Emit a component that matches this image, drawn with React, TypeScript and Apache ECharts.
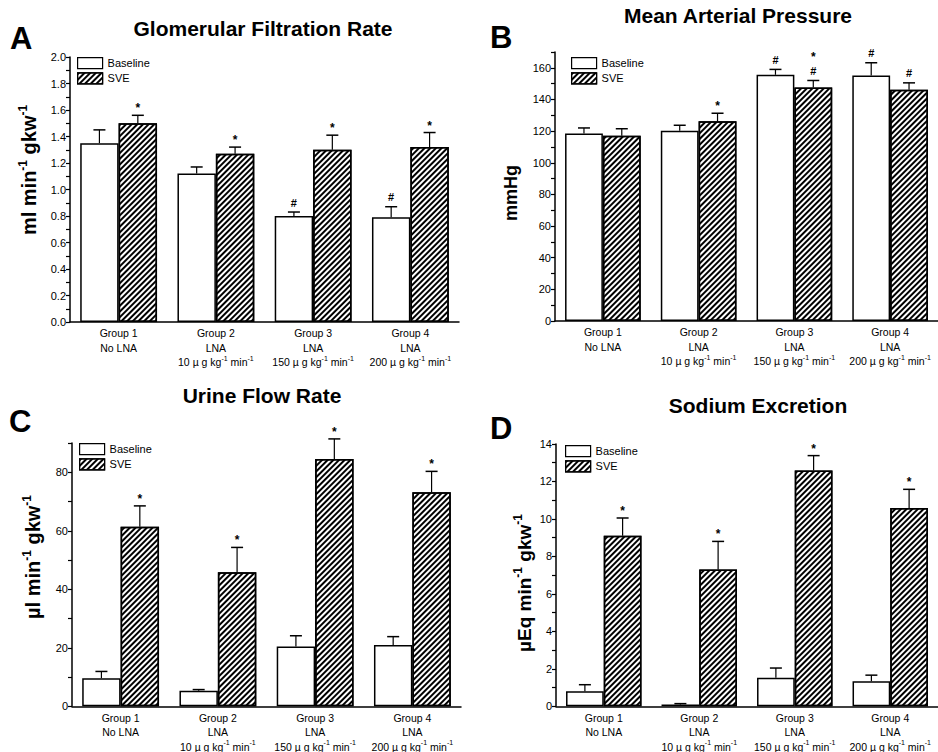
import React, { useEffect, useRef } from "react";
import * as echarts from "echarts";

// ---------- data ----------
const groups = ["Group 1", "Group 2", "Group 3", "Group 4"];
const treatments = ["No LNA", "LNA", "LNA", "LNA"];
const doses = ["", "10", "150", "200"];
const seriesNames = ["Baseline", "SVE"];

// A: Glomerular Filtration Rate
const gfrBaseline = [1.35, 1.12, 0.8, 0.79];
const gfrBaselineSem = [0.1, 0.05, 0.03, 0.08];
const gfrSve = [1.5, 1.27, 1.3, 1.32];
const gfrSveSem = [0.06, 0.05, 0.11, 0.11];
const gfrBaselineMarks = ["", "", "#", "#"];
const gfrSveMarks = ["*", "*", "*", "*"];
const gfrTicks = { max: 2.0, interval: 0.1, labelEvery: 0.2 };

// B: Mean Arterial Pressure
const mapBaseline = [118.5, 120.3, 155.6, 155.1];
const mapBaselineSem = [3.5, 3.4, 3.4, 8.1];
const mapSve = [117.1, 126.2, 147.5, 146.1];
const mapSveSem = [4.4, 5.1, 4.5, 4.4];
const mapBaselineMarks = ["", "", "#", "#"];
const mapSveMarks = ["", "*", "*\n#", "#"];
const mapTicks = { max: 170, interval: 10, labelEvery: 20 };

// C: Urine Flow Rate
const ufrBaseline = [9.6, 5.3, 20.4, 20.9];
const ufrBaselineSem = [2.3, 0.4, 3.7, 2.9];
const ufrSve = [61.4, 45.8, 84.5, 73.2];
const ufrSveSem = [7.1, 8.5, 6.9, 7.1];
const ufrBaselineMarks = ["", "", "", ""];
const ufrSveMarks = ["*", "*", "*", "*"];
const ufrTicks = { max: 90, interval: 10, labelEvery: 20 };

// D: Sodium Excretion
const naBaseline = [0.8, 0.1, 1.52, 1.33];
const naBaselineSem = [0.35, 0.04, 0.52, 0.33];
const naSve = [9.1, 7.3, 12.58, 10.58];
const naSveSem = [0.95, 1.5, 0.8, 1.0];
const naBaselineMarks = ["", "", "", ""];
const naSveMarks = ["*", "*", "*", "*"];
const naTicks = { max: 14, interval: 1, labelEvery: 2 };

const FONT = "Arial, 'Liberation Sans', Helvetica, sans-serif";

const panels = [
  {
    letter: "A", title: "Glomerular Filtration Rate",
    yName: "{b|ml min}{s|-1}{b| gkw}{s|-1}",
    base: gfrBaseline, baseSem: gfrBaselineSem, sve: gfrSve, sveSem: gfrSveSem,
    baseMarks: gfrBaselineMarks, sveMarks: gfrSveMarks,
    max: gfrTicks.max, interval: gfrTicks.interval, labelEvery: gfrTicks.labelEvery, decimals: 1,
  },
  {
    letter: "B", title: "Mean Arterial Pressure",
    yName: "{b|mmHg}",
    base: mapBaseline, baseSem: mapBaselineSem, sve: mapSve, sveSem: mapSveSem,
    baseMarks: mapBaselineMarks, sveMarks: mapSveMarks,
    max: mapTicks.max, interval: mapTicks.interval, labelEvery: mapTicks.labelEvery, decimals: 0,
  },
  {
    letter: "C", title: "Urine Flow Rate",
    yName: "{b|µl min}{s|-1}{b| gkw}{s|-1}",
    base: ufrBaseline, baseSem: ufrBaselineSem, sve: ufrSve, sveSem: ufrSveSem,
    baseMarks: ufrBaselineMarks, sveMarks: ufrSveMarks,
    max: ufrTicks.max, interval: ufrTicks.interval, labelEvery: ufrTicks.labelEvery, decimals: 0,
  },
  {
    letter: "D", title: "Sodium Excretion",
    yName: "{b|µEq min}{s|-1}{b| gkw}{s|-1}",
    base: naBaseline, baseSem: naBaselineSem, sve: naSve, sveSem: naSveSem,
    baseMarks: naBaselineMarks, sveMarks: naSveMarks,
    max: naTicks.max, interval: naTicks.interval, labelEvery: naTicks.labelEvery, decimals: 0,
  },
];

// ---------- layout ----------
const layout = [
  { grid: { left: 70, top: 57, width: 389, height: 265 }, title: [263, 28], letter: [10, 38], yName: [29, 170], yNameSize: 20, legend: [77, 57] },
  { grid: { left: 555, top: 52, width: 389, height: 269 }, title: [738, 15], letter: [490, 37], yName: [511, 193], yNameSize: 18, legend: [571, 57] },
  { grid: { left: 72, top: 443, width: 389, height: 265 }, title: [262, 395], letter: [9, 421], yName: [33, 557], yNameSize: 20, legend: [79, 443] },
  { grid: { left: 556, top: 444, width: 389, height: 264 }, title: [758, 405], letter: [490, 428], yName: [524, 583], yNameSize: 19, legend: [565, 445] },
];

const CAT_GAP = 0.21;

function categoryLabel(value: string, index: number) {
  let s = `{n|${value}}\n{n|${treatments[index]}}`;
  if (doses[index]) s += `\n{n|${doses[index]} µ g kg}{s|-1}{n| min}{s|-1}`;
  return s;
}

function errorSeries(i: number, side: number, values: number[], sem: number[], marks: string[]) {
  return {
    type: "custom",
    xAxisIndex: i,
    yAxisIndex: i,
    clip: false,
    silent: true,
    z: 5,
    data: values.map((v, k) => [k, v, v + sem[k]]),
    renderItem: (params: any, api: any) => {
      const k = api.value(0);
      const base = api.coord([k, api.value(1)]);
      const top = api.coord([k, api.value(2)]);
      const band = api.size([1, 0])[0];
      const bw = (band * (1 - CAT_GAP)) / 2;
      const x = base[0] + (side * bw) / 2;
      const children: any[] = [
        { type: "line", shape: { x1: x, y1: base[1], x2: x, y2: top[1] }, style: { stroke: "#000", lineWidth: 1.2 } },
        { type: "line", shape: { x1: x - 6, y1: top[1], x2: x + 6, y2: top[1] }, style: { stroke: "#000", lineWidth: 1.5 } },
      ];
      const m = marks[params.dataIndex];
      if (m) {
        const parts = m.split("\n").reverse();
        let y = top[1] - 4;
        parts.forEach((p) => {
          const isStar = p === "*";
          children.push({
            type: "text",
            x,
            y: isStar ? y + 3 : y,
            style: {
              text: p, align: "center", verticalAlign: "bottom",
              font: isStar ? `bold 12px ${FONT}` : `bold 11px ${FONT}`, fill: "#000",
            },
          });
          y -= 16;
        });
      }
      return { type: "group", children };
    },
  };
}

export default function App() {
  const ref = useRef<HTMLDivElement>(null);
  useEffect(() => {
    if (!ref.current) return;
    const chart = echarts.init(ref.current, undefined, { renderer: "svg" });

    const decal = {
      symbol: "rect",
      symbolSize: 1,
      dashArrayX: [1, 0],
      dashArrayY: [1.3, 1.1],
      rotation: -Math.PI / 4,
      color: "#000",
    };

    const grids = layout.map((l) => l.grid);
    const xAxes = panels.map((p, i) => ({
      type: "category",
      gridIndex: i,
      data: groups,
      axisLine: { lineStyle: { color: "#000", width: 1.5 } },
      axisTick: { show: false },
      axisLabel: {
        interval: 0,
        margin: 4,
        color: "#000",
        formatter: categoryLabel,
        rich: {
          n: { fontSize: 10.5, fontFamily: FONT, color: "#000", lineHeight: 14.5 },
          s: { fontSize: 7, fontFamily: FONT, color: "#000", lineHeight: 14.5, verticalAlign: "top" },
        },
      },
    }));
    const yAxes = panels.map((p, i) => ({
      type: "value",
      gridIndex: i,
      min: 0,
      max: p.max,
      interval: p.interval,
      axisLine: { show: true, lineStyle: { color: "#000", width: 1.5 } },
      axisTick: { show: true, length: 4, lineStyle: { color: "#000", width: 1.2 } },
      splitLine: { show: false },
      axisLabel: {
        margin: 4,
        color: "#000",
        fontSize: 11,
        fontFamily: FONT,
        formatter: (v: number) => {
          const r = v / p.labelEvery;
          if (Math.abs(r - Math.round(r)) > 1e-6) return "";
          return v.toFixed(p.decimals);
        },
      },
    }));

    const series: any[] = [];
    panels.forEach((p, i) => {
      series.push({
        type: "bar", name: seriesNames[0], xAxisIndex: i, yAxisIndex: i, data: p.base,
        barGap: "0%", barCategoryGap: `${CAT_GAP * 100}%`,
        itemStyle: { color: "#fff", borderColor: "#000", borderWidth: 1.5 },
      });
      series.push({
        type: "bar", name: seriesNames[1], xAxisIndex: i, yAxisIndex: i, data: p.sve,
        barGap: "0%", barCategoryGap: `${CAT_GAP * 100}%`,
        itemStyle: { color: "#fff", borderColor: "#000", borderWidth: 1.5, decal },
      });
      series.push(errorSeries(i, -1, p.base, p.baseSem, p.baseMarks));
      series.push(errorSeries(i, 1, p.sve, p.sveSem, p.sveMarks));
    });

    const legends = layout.map((l) => ({
      data: seriesNames,
      orient: "vertical",
      left: l.legend[0],
      top: l.legend[1],
      itemWidth: 25,
      itemHeight: 11,
      itemGap: 3,
      padding: 0,
      icon: "rect",
      selectedMode: false,
      textStyle: { fontSize: 11, color: "#000", fontFamily: FONT },
      itemStyle: { borderColor: "#000", borderWidth: 1.2 },
    }));

    const graphics: any[] = [];
    panels.forEach((p, i) => {
      const l = layout[i];
      graphics.push({
        type: "text", x: l.title[0], y: l.title[1],
        style: { text: p.title, align: "center", verticalAlign: "middle", font: `bold 21px ${FONT}`, fill: "#000" },
      });
      graphics.push({
        type: "text", x: l.letter[0], y: l.letter[1],
        style: { text: p.letter, align: "left", verticalAlign: "middle", font: `bold 31px ${FONT}`, fill: "#000" },
      });
      graphics.push({
        type: "text", x: l.yName[0], y: l.yName[1], rotation: Math.PI / 2,
        style: {
          text: p.yName, align: "center", verticalAlign: "middle",
          rich: {
            b: { fontSize: l.yNameSize, fontWeight: "bold", fontFamily: FONT, color: "#000", lineHeight: 24 },
            s: { fontSize: 12, fontWeight: "bold", fontFamily: FONT, color: "#000", lineHeight: 24, verticalAlign: "top" },
          },
        },
      });
    });

    chart.setOption({
      animation: false,
      backgroundColor: "#fff",
      grid: grids,
      xAxis: xAxes,
      yAxis: yAxes,
      legend: legends,
      series,
      graphic: graphics,
    });
    return () => chart.dispose();
  }, []);

  return <div ref={ref} style={{ position: "absolute", left: 0, top: 0, width: 938, height: 752 }} />;
}
